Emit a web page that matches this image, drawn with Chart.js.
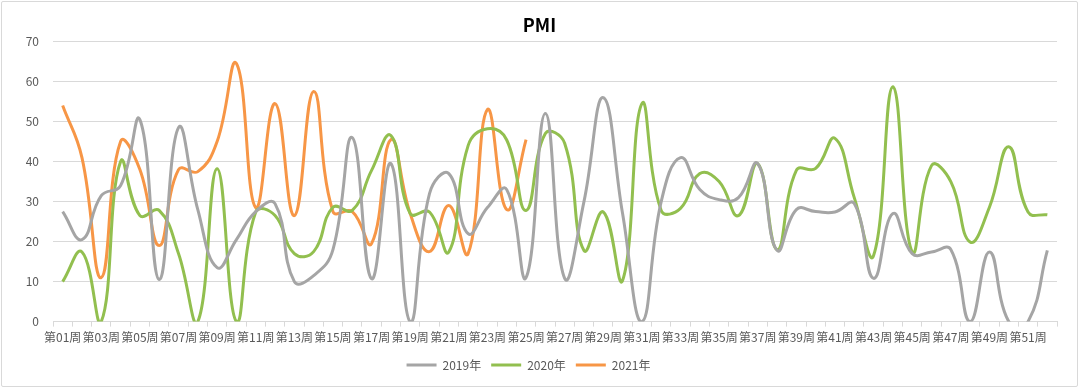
<!DOCTYPE html>
<html>
<head>
<meta charset="utf-8">
<script src="https://cdn.jsdelivr.net/npm/chart.js@4/dist/chart.umd.min.js"></script>
<style>
    body { margin: 0; background: #fff; }
    #wrap { position: relative; width: 1080px; height: 389px; }
    #frame { position: absolute; left: 1px; top: 1px; width: 1075px; height: 384px; border: 1px solid #d9d9d9; border-radius: 2px; }
    #chart { position: absolute; left: 0; top: 0; }
</style>
</head>
<body>
<div id="wrap">
    <div id="frame"></div>
    <canvas id="chart" width="1080" height="389"></canvas>
</div>
<script>
// week labels 第01周 ... 第52周
const weeks = Array.from({ length: 52 }, (_, i) => '第' + String(i + 1).padStart(2, '0') + '周');

// values
const pmi2019 = [27.5, 20.5, 31.5, 34, 50.5, 10.5, 48.5, 28, 13.5, 20.5, 27.5, 29.5, 10, 11.5, 18, 46,
    10.7, 39.5, 0, 32, 37, 22, 28.5, 33, 11, 52, 10.8, 30, 56, 27, 0, 30, 41, 33, 30.5, 31,
    39.5, 17.8, 28, 27.5, 27.4, 29.5, 10.8, 27, 17, 17.4, 18, 0, 17.4, 0, 0, 17.8];
const pmi2020 = [10, 17.4, 0, 40, 26.5, 27.8, 17, 0, 38.2, 0, 27.4, 26.5, 17, 17.5, 28.6, 27.8,
    37.8, 46.5, 27, 27.4, 17.4, 44, 48.2, 45.4, 27.8, 47, 44.6, 17.8, 27.4, 10.3, 54.5, 27.8,
    28.3, 37, 35, 26.5, 39.5, 18, 37.8, 38.3, 45.8, 31, 16.5, 58.7, 17.4, 39, 35, 19.9, 28.6,
    43.7, 27.4, 26.7];
const pmi2021 = [54, 41, 11, 45, 38, 19, 38, 37.5, 45, 64.5, 28.5, 54.5, 26.5, 57.5, 27.5, 27.5,
    19.5, 45.5, 27, 17.5, 29, 17, 53, 28, 45.5];

const yTicks = [0, 10, 20, 30, 40, 50, 60, 70];

const textColor = '#595959';
const gridColor = '#d9d9d9';
const cjkFont = "'Noto Sans CJK SC', 'Noto Sans', sans-serif";

function makeSeries(label, data, color) {
    return {
        label: label,
        data: data,
        borderColor: color,
        backgroundColor: color,
        borderWidth: 3,
        pointRadius: 0,
        tension: 0.45,
        capBezierPoints: false,
        fill: false
    };
}

// title sits over the whole frame, not the plot: nudge it right
const centerTitle = {
    id: 'centerTitle',
    afterLayout(chart) {
        const t = chart.titleBlock;
        if (t) {
            t.left += 11;
            t.right += 11;
        }
    }
};

const ctx = document.getElementById('chart').getContext('2d');

new Chart(ctx, {
    type: 'line',
    data: {
        labels: weeks,
        datasets: [
            makeSeries('2019年', pmi2019, '#a5a5a5'),
            makeSeries('2020年', pmi2020, '#92bf4f'),
            makeSeries('2021年', pmi2021, '#f79646')
        ]
    },
    plugins: [centerTitle],
    options: {
        responsive: false,
        animation: false,
        layout: { padding: { left: 0, right: 23, top: 0, bottom: 8 } },
        font: { family: cjkFont },
        scales: {
            x: {
                offset: true,
                grid: {
                    offset: true,
                    drawOnChartArea: false,
                    tickLength: 5,
                    color: gridColor
                },
                border: { color: gridColor },
                ticks: {
                    autoSkip: false,
                    maxRotation: 0,
                    minRotation: 0,
                    padding: 4,
                    color: textColor,
                    font: { family: cjkFont, size: 12 },
                    callback: function(value, index) {
                        return index % 2 === 0 ? weeks[index] : '';
                    }
                }
            },
            y: {
                min: 0,
                max: 70,
                afterBuildTicks: function(scale) {
                    scale.ticks = yTicks.map(v => ({ value: v }));
                },
                afterFit: function(scale) {
                    scale.width = 53;
                },
                grid: { color: gridColor, drawTicks: false },
                border: { display: false },
                ticks: {
                    padding: 14,
                    color: textColor,
                    font: { family: cjkFont, size: 12 }
                }
            }
        },
        plugins: {
            title: {
                display: true,
                text: 'PMI',
                color: '#000',
                font: { family: cjkFont, size: 18, weight: 'bold' },
                padding: { top: 14, bottom: 6 }
            },
            legend: {
                position: 'bottom',
                labels: {
                    usePointStyle: true,
                    pointStyle: 'line',
                    pointStyleWidth: 30,
                    boxHeight: 12,
                    padding: 10,
                    color: textColor,
                    font: { family: cjkFont, size: 12 }
                }
            },
            tooltip: { enabled: false }
        }
    }
});
</script>
</body>
</html>
